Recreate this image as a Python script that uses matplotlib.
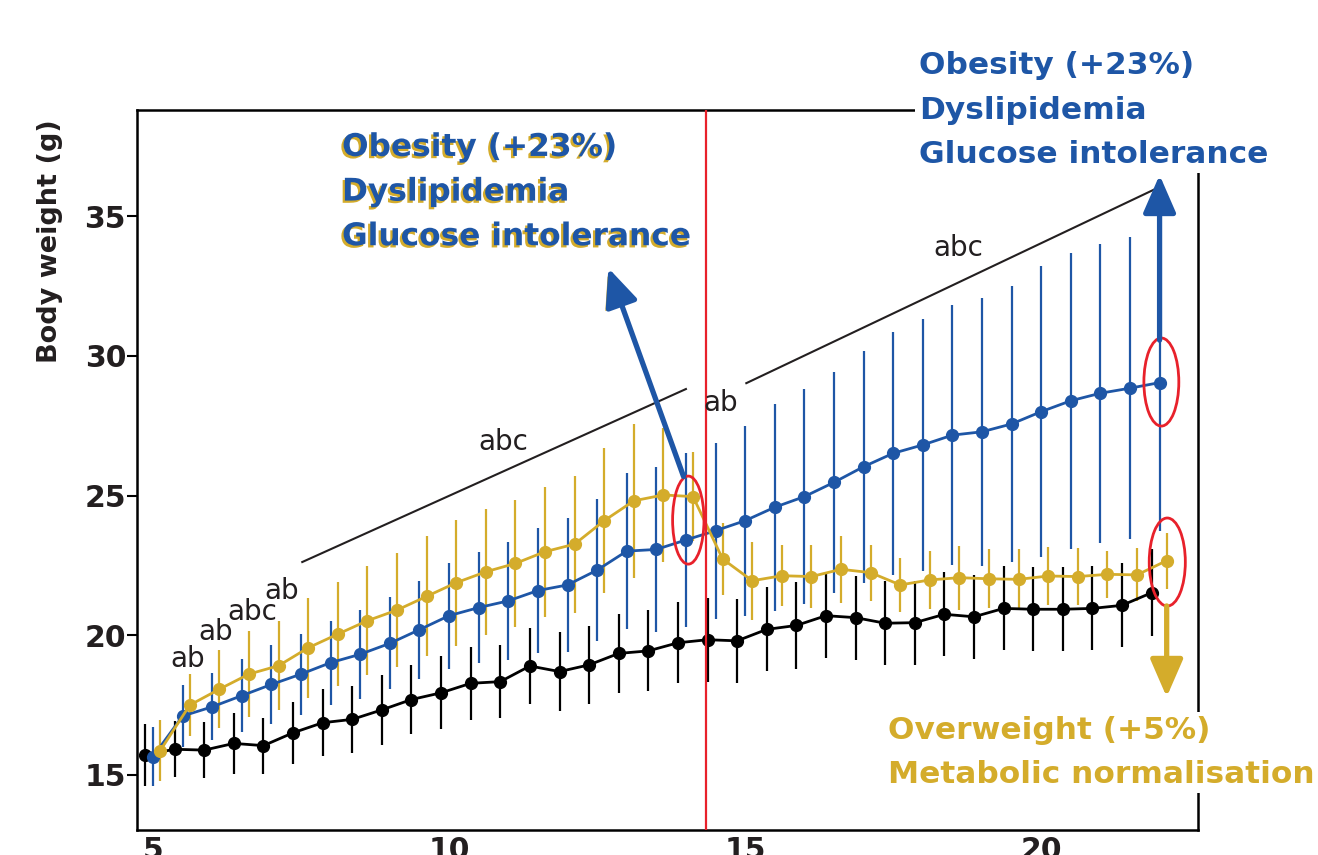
import matplotlib
matplotlib.use('Agg')
import matplotlib.pyplot as plt
import matplotlib.patheffects as pe
from matplotlib.patches import Ellipse
import numpy as np

plt.rcParams['font.family'] = ['DejaVu Sans']

# Semaines de mesure (2 par semaine)
weeks = [5.0, 5.5, 6.0, 6.5, 7.0, 7.5, 8.0, 8.5, 9.0, 9.5, 10.0, 10.5,
         11.0, 11.5, 12.0, 12.5, 13.0, 13.5, 14.0, 14.5, 15.0, 15.5, 16.0,
         16.5, 17.0, 17.5, 18.0, 18.5, 19.0, 19.5, 20.0, 20.5, 21.0, 21.5, 22.0]

# Groupe contrôle (noir)
ctrl_mean = [15.72, 15.92, 15.89, 16.13, 16.05, 16.51, 16.87, 16.99, 17.33, 17.70,
             17.94, 18.28, 18.34, 18.90, 18.70, 18.94, 19.35, 19.44, 19.73, 19.84,
             19.80, 20.21, 20.35, 20.70, 20.63, 20.43, 20.45, 20.75, 20.66, 20.96,
             20.93, 20.93, 20.96, 21.07, 21.52]
ctrl_err = [1.1, 1.0, 1.0, 1.1, 1.0, 1.1, 1.2, 1.2, 1.25, 1.25, 1.3, 1.3, 1.3, 1.35,
            1.4, 1.4, 1.4, 1.45, 1.45, 1.5, 1.5, 1.5, 1.55, 1.5, 1.5, 1.5, 1.5, 1.5,
            1.5, 1.5, 1.5, 1.5, 1.5, 1.5, 1.55]

# Régime gras continu (bleu)
hfd_mean = [15.66, 17.11, 17.44, 17.84, 18.24, 18.61, 19.02, 19.32, 19.71, 20.20,
            20.70, 20.99, 21.23, 21.60, 21.80, 22.33, 23.01, 23.07, 23.41, 23.74,
            24.10, 24.58, 24.96, 25.47, 26.03, 26.51, 26.81, 27.16, 27.28, 27.56,
            28.00, 28.39, 28.66, 28.84, 29.04]
hfd_err = [1.05, 1.1, 1.2, 1.3, 1.4, 1.45, 1.5, 1.6, 1.65, 1.75, 1.9, 2.0, 2.1, 2.25,
           2.4, 2.55, 2.8, 2.95, 3.1, 3.15, 3.4, 3.7, 3.85, 3.95, 4.15, 4.35, 4.5,
           4.65, 4.8, 4.95, 5.2, 5.3, 5.35, 5.4, 5.3]

# Régime gras puis retour (jaune)
sw_mean = [15.87, 17.50, 18.07, 18.61, 18.91, 19.55, 20.04, 20.52, 20.90, 21.39,
           21.88, 22.27, 22.57, 22.99, 23.26, 24.10, 24.81, 25.02, 24.96, 22.73,
           21.95, 22.13, 22.10, 22.36, 22.24, 21.80, 21.98, 22.06, 22.02, 22.00,
           22.12, 22.10, 22.18, 22.16, 22.67]
sw_err = [1.1, 1.1, 1.4, 1.55, 1.6, 1.8, 1.85, 1.95, 2.05, 2.15, 2.25, 2.25, 2.27,
          2.32, 2.45, 2.6, 2.75, 2.4, 1.6, 1.28, 1.4, 1.1, 1.13, 1.2, 1.0, 0.97,
          1.05, 1.15, 1.05, 1.07, 1.03, 1.03, 0.85, 0.95, 1.0]

yticks = [15, 20, 25, 30, 35]
xticks = [5, 10, 15, 20]
switch_week = 14.34

BLUE = '#1e56a6'
GOLD = '#d4ac2b'
RED = '#e8212b'
INK = '#231f20'

fig = plt.figure(figsize=(13.18, 8.55), dpi=100)
ax = fig.add_axes([0.104, 0.0292, 0.805, 0.842])

w = np.array(weeks)
series = [(w - 0.135, ctrl_mean, ctrl_err, 'black'),
          (w, hfd_mean, hfd_err, BLUE),
          (w + 0.12, sw_mean, sw_err, GOLD)]
for x, m, e, c in series:
    ax.errorbar(x, m, yerr=e, color=c, lw=2, elinewidth=1.6, capsize=0,
                marker='o', ms=8.5, zorder=3)

ax.axvline(switch_week, color=RED, lw=1.6, zorder=4)

# ellipses rouges
for cx, cy, ew in [(14.04, 24.12, 0.53), (22.03, 29.06, 0.59), (22.13, 22.62, 0.61)]:
    ax.add_patch(Ellipse((cx, cy), ew, 3.15, fill=False, ec=RED, lw=2, zorder=5))

# lignes de significativité
ax.plot([7.52, 14.0], [22.62, 28.81], color=INK, lw=1.5)
ax.plot([15.02, 21.96], [29.02, 36.0], color=INK, lw=1.5)
for tx, ty, s in [(10.91, 26.91, 'abc'), (18.6, 33.86, 'abc'), (14.58, 28.31, 'ab'),
                  (5.59, 19.15, 'ab'), (6.05, 20.12, 'ab'), (6.67, 20.83, 'abc'),
                  (7.18, 21.58, 'ab')]:
    ax.text(tx, ty, s, fontsize=20, color=INK, ha='center', va='center', zorder=6)

# flèches
shadow = [pe.SimplePatchShadow(offset=(-2.2, -1.5), shadow_rgbFace=GOLD, alpha=1), pe.Normal()]
arr = dict(arrowstyle='-|>,head_length=1.15,head_width=0.5', lw=3.8,
           mutation_scale=20, shrinkA=0, shrinkB=0)
ax.annotate('', xy=(12.69, 33.14), xytext=(13.96, 25.68),
            arrowprops=dict(color=BLUE, path_effects=shadow, **arr), zorder=6)
ax.annotate('', xy=(22.0, 36.47), xytext=(22.0, 30.56),
            arrowprops=dict(color=BLUE, **arr), zorder=6)
ax.annotate('', xy=(22.12, 17.79), xytext=(22.12, 21.05),
            arrowprops=dict(color=GOLD, **arr), zorder=6)

txt = 'Obesity (+23%)\nDyslipidemia\nGlucose intolerance'
fig.text(0.2595, 0.8445, txt, color=BLUE, fontsize=22.5, fontweight='bold',
         ha='left', va='top', linespacing=1.68,
         path_effects=[pe.withSimplePatchShadow(offset=(-1.6, -1.6), shadow_rgbFace=GOLD, alpha=1)])
fig.text(0.697, 0.9405, txt, color=BLUE, fontsize=22.5, fontweight='bold',
         ha='left', va='top', linespacing=1.68, zorder=10,
         bbox=dict(facecolor='white', edgecolor='none', pad=3))
fig.text(0.674, 0.163, 'Overweight (+5%)\nMetabolic normalisation', color=GOLD,
         fontsize=22.5, fontweight='bold', ha='left', va='top', linespacing=1.68,
         zorder=10, bbox=dict(facecolor='white', edgecolor='none', pad=3))

ax.set_xlim(4.73, 22.65)
ax.set_ylim(13.03, 38.79)
ax.set_yticks(yticks)
ax.set_xticks(xticks)
ax.tick_params(axis='y', length=7, width=1.5, pad=1, labelsize=21.5, labelcolor=INK)
ax.tick_params(axis='x', length=0, pad=4, labelsize=21.5, labelcolor=INK)
for lab in ax.get_xticklabels() + ax.get_yticklabels():
    lab.set_fontweight('bold')
for sp in ax.spines.values():
    sp.set_linewidth(1.8)
fig.text(0.038, 0.718, 'Body weight (g)', rotation=90, fontsize=19.5,
         fontweight='bold', color=INK, ha='center', va='center')

fig.savefig('out.png', dpi=100)
